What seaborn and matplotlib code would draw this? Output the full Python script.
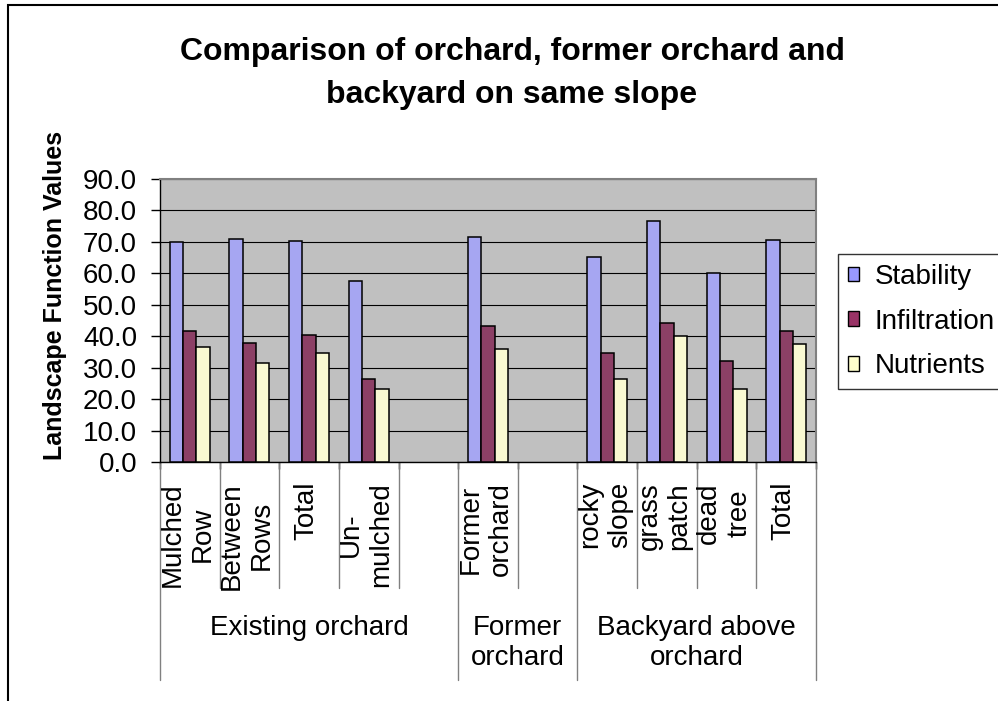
import numpy as np
import pandas as pd
import matplotlib
matplotlib.use("Agg")
import matplotlib.pyplot as plt
from matplotlib.patches import Patch, Rectangle
import seaborn as sns

# Slots along the category axis (blank slots separate the three sites)
site_labels = ["Mulched\nRow", "Between\nRows", "Total", "Un-\nmulched", "",
               "Former\norchard", "",
               "rocky\nslope", "grass\npatch", "dead\ntree", "Total"]
site_groups = ["Existing orchard"] * 5 + ["Former\norchard"] * 2 + \
              ["Backyard above\norchard"] * 4
group_names = ["Existing orchard", "Former\norchard", "Backyard above\norchard"]

measures = ["Stability", "Infiltration", "Nutrients"]
stability = [69.9, 71.0, 70.4, 57.7, None, 71.7, None, 65.3, 76.8, 60.2, 70.5]
infiltration = [41.7, 38.0, 40.4, 26.5, None, 43.1, None, 34.8, 44.3, 32.2, 41.7]
nutrients = [36.7, 31.6, 34.8, 23.3, None, 36.0, None, 26.5, 40.0, 23.3, 37.4]

colors = {"Stability": "#9999FF", "Infiltration": "#993366", "Nutrients": "#FFFFCC"}

sns.set_style("white")
plt.rcParams["font.family"] = ["Liberation Sans", "DejaVu Sans"]
plt.rcParams.update({"text.color": "black", "axes.labelcolor": "black",
                     "xtick.color": "black", "ytick.color": "black"})

slot_keys = [f"{g}|{lab}|{i}" for i, (g, lab) in enumerate(zip(site_groups, site_labels))]
rows = []
for key, s, inf, nu in zip(slot_keys, stability, infiltration, nutrients):
    for m, v in zip(measures, (s, inf, nu)):
        if v is not None:
            rows.append({"slot": key, "measure": m, "value": v})
df = pd.DataFrame(rows)

W, H = 998, 701
fig = plt.figure(figsize=(W / 100, H / 100), dpi=100)
ax_left, ax_right, ax_top, ax_bot = 160, 816, 179, 462
ax = fig.add_axes([ax_left / W, (H - ax_bot) / H,
                   (ax_right - ax_left) / W, (ax_bot - ax_top) / H])
ax.set_facecolor("#C0C0C0")

sns.barplot(data=df, x="slot", y="value", hue="measure", order=slot_keys,
            hue_order=measures, palette=colors, width=0.67, edgecolor="black",
            linewidth=1.1, errorbar=None, ax=ax, zorder=3, legend=False)

ax.set_xlim(-0.5, len(slot_keys) - 0.5)
ax.set_ylim(0, 90)
ax.set_yticks(np.arange(0, 91, 10))
ax.set_yticklabels([f"{v:.1f}" for v in np.arange(0, 91, 10)], fontsize=20,
                   color="black")
ax.yaxis.grid(True, color="black", linewidth=0.8, zorder=0)
ax.set_axisbelow(True)
ax.tick_params(axis="y", direction="out", length=6.5, width=1, pad=10,
               color="black", left=True)

bounds = np.arange(-0.5, len(slot_keys), 1.0)
ax.set_xticks(bounds)
ax.tick_params(axis="x", direction="out", length=5, width=1, color="black",
               labelbottom=False, bottom=True)
ax.set_xlabel("")
ax.set_ylabel("Landscape Function Values", fontsize=18, fontweight="bold",
              rotation=90, ha="center", va="center", color="black")
ax.yaxis.set_label_coords((55 - ax_left) / (ax_right - ax_left),
                          (ax_bot - 295) / (ax_bot - ax_top))

for side in ("left", "bottom"):
    ax.spines[side].set_color("black")
    ax.spines[side].set_linewidth(1.0)
for side in ("top", "right"):
    ax.spines[side].set_color("#808080")
    ax.spines[side].set_linewidth(1.5)

xt = ax.get_xaxis_transform()
ph = ax_bot - ax_top


def ax_y(px):
    return (ax_bot - px) / ph


# Category labels, rotated
for i, lab in enumerate(site_labels):
    if lab:
        ax.text(i - 0.04, ax_y(482), lab, transform=xt, rotation=90,
                ha="center", va="top", multialignment="center", fontsize=20,
                color="black")

# Separator lines below the axis: short between slots, long between groups
group_edges = [0]
for i in range(1, len(site_groups)):
    if site_groups[i] != site_groups[i - 1]:
        group_edges.append(i)
group_edges.append(len(site_groups))
long_bounds = [e - 0.5 for e in group_edges]
for b in bounds:
    long_line = any(abs(b - lb) < 1e-9 for lb in long_bounds)
    ax.plot([b, b], [0, ax_y(680 if long_line else 588)], transform=xt,
            clip_on=False, color="#808080", linewidth=1.0, zorder=1)

# Group labels
for g, start, end in zip(group_names, group_edges[:-1], group_edges[1:]):
    ax.text((start + end - 1) / 2, ax_y(615), g, transform=xt, ha="center",
            va="top", multialignment="center", fontsize=20, color="black")

fig.text(512 / W, (H - 37) / H,
         "Comparison of orchard, former orchard and\nbackyard on same slope",
         ha="center", va="top", fontsize=23, fontweight="bold",
         linespacing=1.55, color="black")

handles = [Patch(facecolor=colors[m], edgecolor="black", linewidth=1.0) for m in measures]
leg = fig.legend(handles, measures, loc="upper left",
                 bbox_to_anchor=(838 / W, (H - 254) / H), frameon=True,
                 fancybox=False, edgecolor="black", fontsize=20,
                 handlelength=0.42, handleheight=0.42, handletextpad=0.55,
                 labelspacing=0.68, borderpad=0.35, borderaxespad=0)
leg.get_frame().set_linewidth(1.0)
for t in leg.get_texts():
    t.set_color("black")

# Chart frame
fig.add_artist(Rectangle((8 / W, -0.1), 2.0, (H - 5) / H + 0.1,
                         transform=fig.transFigure, fill=False,
                         edgecolor="black", linewidth=1.5))

fig.savefig("out.png", dpi=100, facecolor="white")
